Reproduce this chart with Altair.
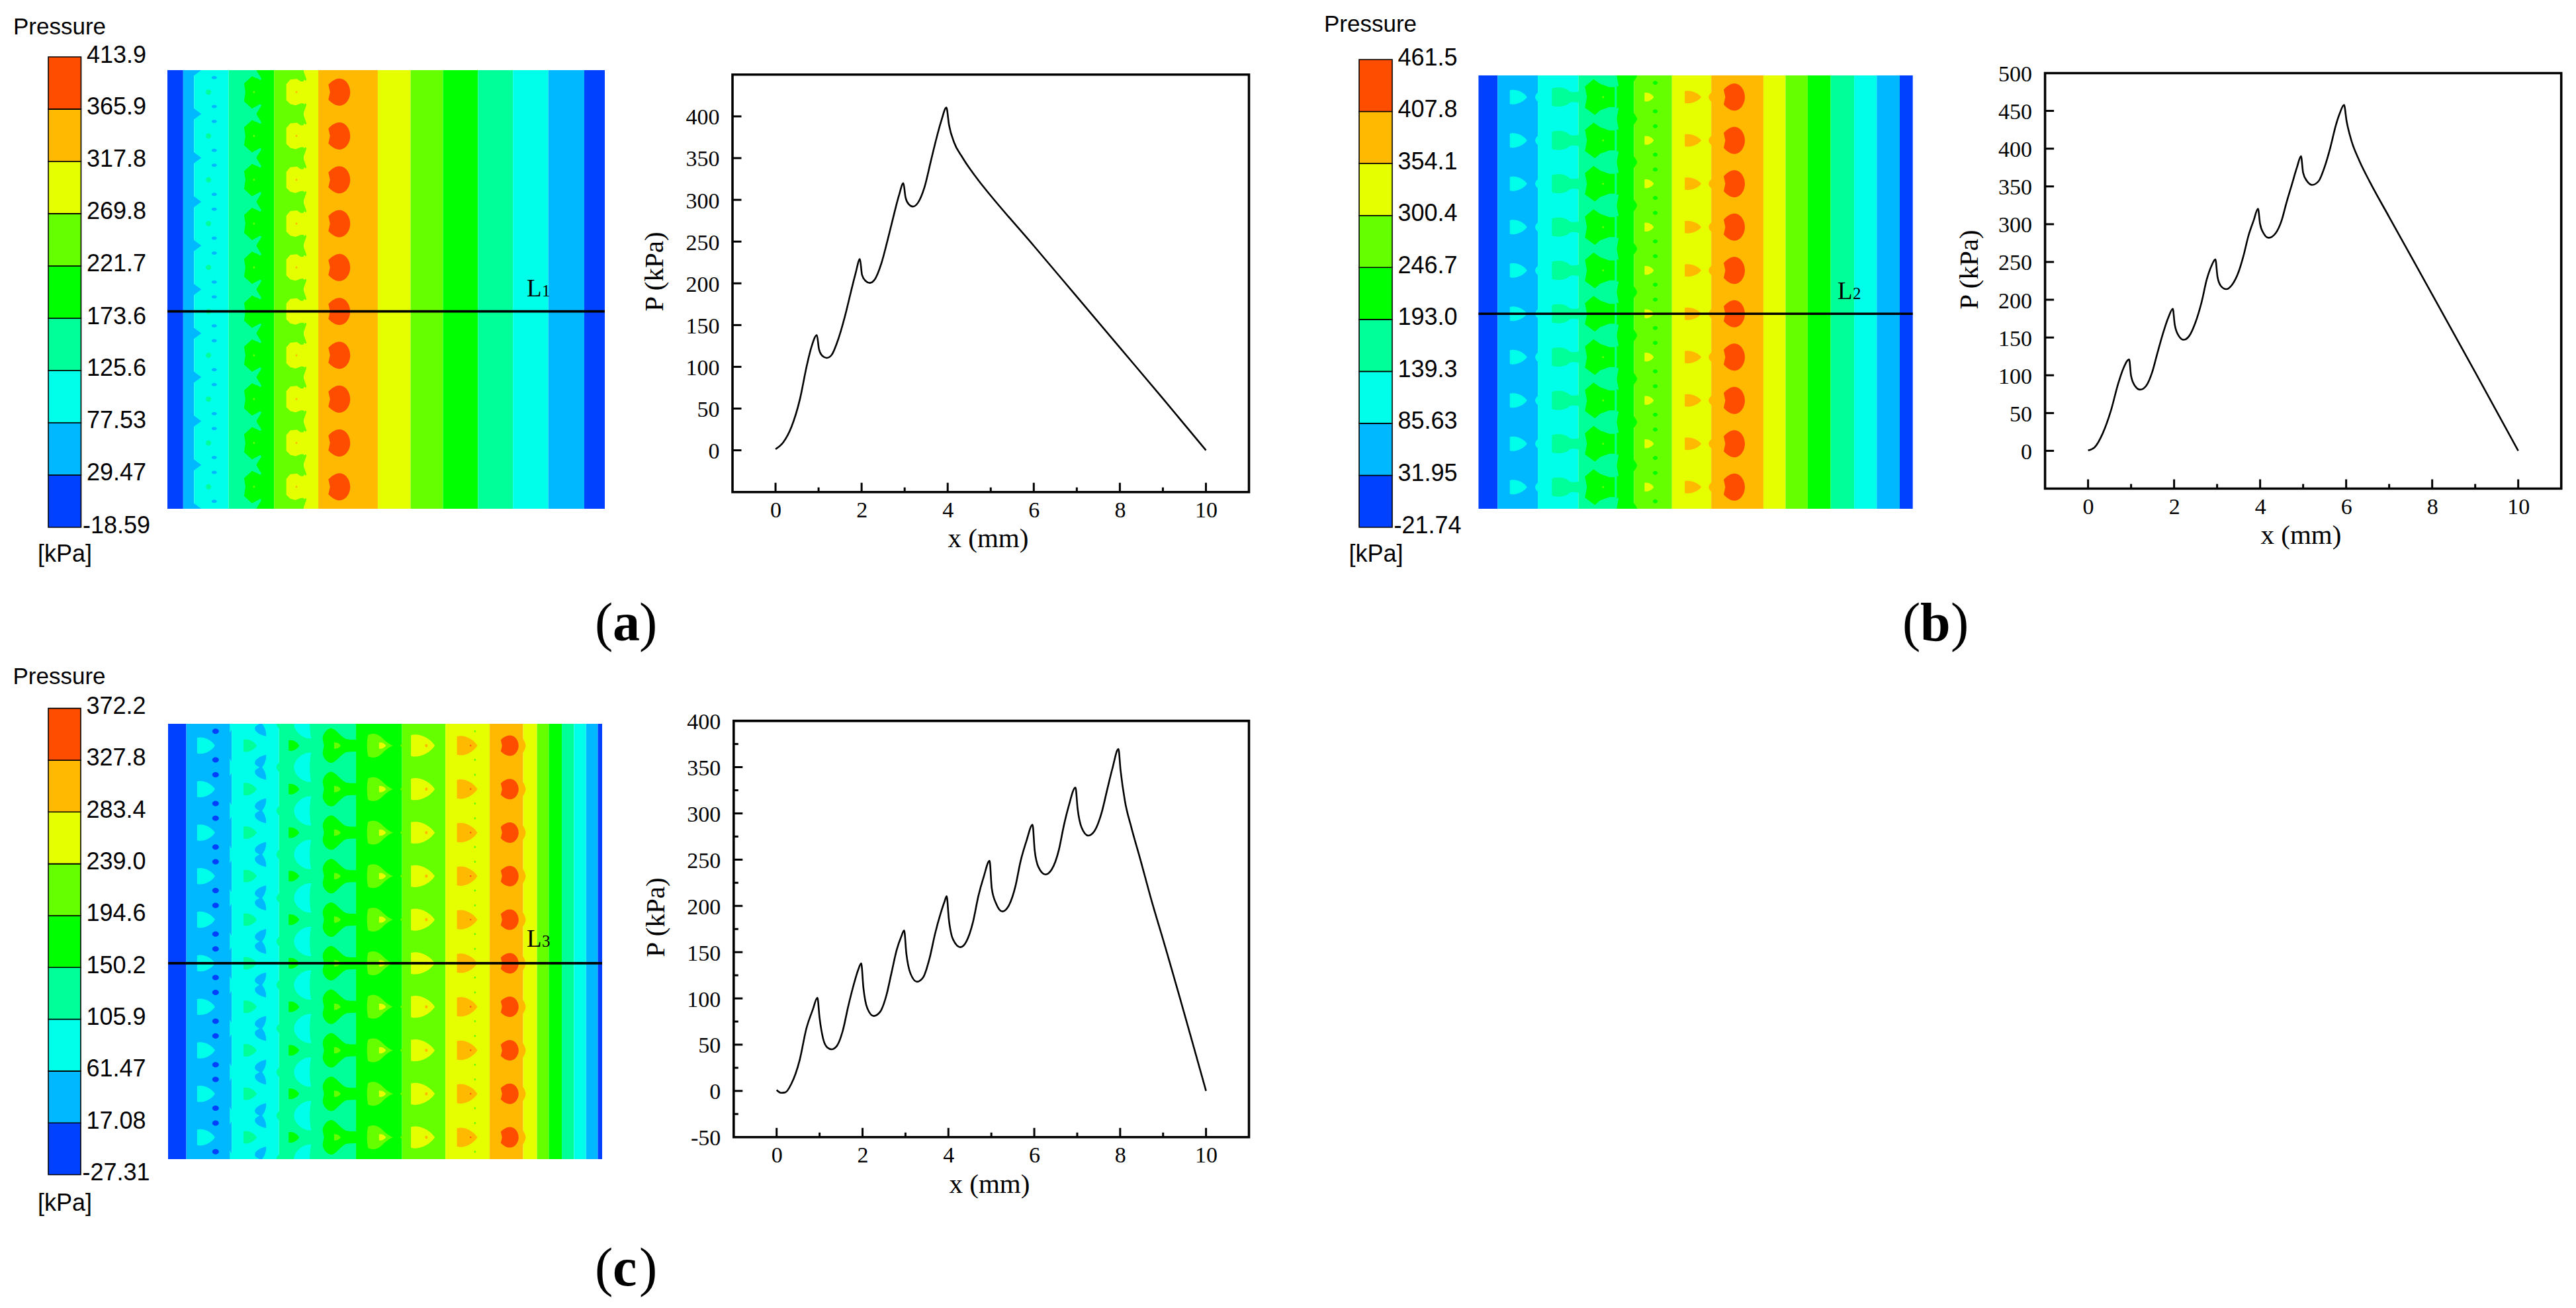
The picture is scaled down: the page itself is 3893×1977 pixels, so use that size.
import altair as alt
import pandas as pd

W, H = 3877, 1961
COLORS = ["#0040ff", "#00b8ff", "#00ffea", "#00ff99", "#00ff00", "#66ff00", "#e6ff00", "#ffb900", "#ff4d00"]
SANS = "Liberation Sans"
SERIF = "Liberation Serif"
MINUS_FIX = "replace(datum.label, '\u2212', '-')"

# ---------- curve values ----------
xa = [0, .18, .37, .57, .72, .83, .96, 1.01, 1.09, 1.19, 1.30, 1.45, 1.62, 1.75, 1.86, 1.96, 2.01, 2.09, 2.19, 2.31, 2.46, 2.6, 2.73, 2.87, 2.97, 3.02, 3.09, 3.19, 3.31, 3.46, 3.61, 3.73, 3.85, 3.97, 4.03, 4.15, 4.34, 4.74, 5, 6, 7, 8, 9, 10]
ya = [1.4, 9.6, 28, 62, 100, 123, 138, 121, 113, 110.7, 114, 132, 162, 189.5, 212, 229, 210, 203, 200.5, 205, 224, 251, 278, 305.7, 320, 303, 295, 292, 296.6, 315, 346.7, 372, 394.5, 410.5, 390, 368.6, 351, 321.6, 305, 245, 184, 123, 62, 0]
xb = [0, .15, .34, .53, .70, .82, .955, 1.0, 1.09, 1.21, 1.35, 1.49, 1.61, 1.75, 1.87, 1.97, 2.015, 2.11, 2.22, 2.35, 2.49, 2.64, 2.76, 2.87, 2.96, 3.01, 3.09, 3.21, 3.35, 3.5, 3.61, 3.73, 3.85, 3.95, 4.0, 4.08, 4.2, 4.36, 4.5, 4.61, 4.74, 4.86, 4.95, 5.0, 5.09, 5.21, 5.36, 5.5, 5.63, 5.76, 5.85, 5.95, 6.01, 6.12, 6.31, 6.55, 7, 8, 9, 10]
yb = [.5, 4.5, 23, 53, 89, 109, 121, 99, 86, 81, 86, 104, 129, 157, 177, 188, 167, 152, 147, 152, 169, 197, 227, 245, 253.5, 230, 218, 214, 220, 237, 257.5, 285, 305, 320.5, 300, 288, 282, 288, 305, 328, 353, 376, 390, 368, 357, 352, 357, 376, 401, 431, 446.6, 458, 436.5, 411, 383.6, 356, 309.5, 207, 104, 0]
xc = [0, .1, .2, .34, .54, .69, .84, .95, 1.0, 1.08, 1.18, 1.28, 1.4, 1.54, 1.67, 1.79, 1.9, 1.97, 2.02, 2.11, 2.26, 2.41, 2.56, 2.67, 2.8, 2.9, 2.97, 3.02, 3.12, 3.27, 3.41, 3.56, 3.69, 3.82, 3.91, 3.96, 4.01, 4.11, 4.28, 4.42, 4.57, 4.7, 4.82, 4.96, 5.01, 5.11, 5.26, 5.41, 5.56, 5.68, 5.82, 5.96, 6.01, 6.1, 6.26, 6.41, 6.57, 6.69, 6.8, 6.96, 7.01, 7.1, 7.26, 7.4, 7.57, 7.7, 7.82, 7.96, 8.01, 8.11, 8.26, 8.46, 8.75, 9, 10]
yc = [1, -2, -1.6, 7.4, 34, 67, 87.6, 100.7, 79, 57, 47, 45, 48.5, 65, 92, 114, 131, 138, 112, 89.6, 81, 85.5, 104, 126.6, 153, 166.5, 173.5, 149, 126.6, 118, 122.5, 143, 170, 192, 204.7, 210.5, 186, 163.6, 155.4, 161.6, 182, 211, 231, 248.7, 219, 202.7, 194, 200.6, 221, 248, 270.5, 287.8, 260, 241.7, 234, 239.7, 260, 287, 307.5, 328, 305, 285, 276, 280.8, 301, 326, 348.6, 369.6, 346.5, 313.7, 285, 252, 202.7, 163.6, 0]

# ---------- colour bar tick values ----------
bar_a = [-18.59, 29.47, 77.53, 125.6, 173.6, 221.7, 269.8, 317.8, 365.9, 413.9]
bar_b = [-21.74, 31.95, 85.63, 139.3, 193.0, 246.7, 300.4, 354.1, 407.8, 461.5]
bar_c = [-27.31, 17.08, 61.47, 105.9, 150.2, 194.6, 239.0, 283.4, 327.8, 372.2]

# ---------- contour bands (mm edges along the channel, colour levels) ----------
LEVELS = [0, 1, 2, 3, 4, 5, 6, 7, 6, 5, 4, 3, 2, 1, 0]
edges_a = [0, .36, .61, 1.40, 2.03, 2.44, 3.12, 3.45, 4.81, 5.56, 6.30, 7.10, 7.90, 8.71, 9.53, 10]
edges_b = [0, .44, 1.366, 2.30, 3.18, 3.58, 4.455, 5.36, 6.56, 7.07, 7.58, 8.11, 8.65, 9.17, 9.70, 10]
edges_c = [0, .42, 1.466, 2.557, 4.33, 5.39, 6.39, 7.41, 8.18, 8.50, 8.77, 9.07, 9.35, 9.63, 9.90, 10]


def ell(rx, ry):
    k = .55
    return (f"M{-rx},0 C{-rx},{-k*ry} {-k*rx},{-ry} 0,{-ry} C{k*rx},{-ry} {rx},{-k*ry} {rx},0 "
            f"C{rx},{k*ry} {k*rx},{ry} 0,{ry} C{-k*rx},{ry} {-rx},{k*ry} {-rx},0 Z")


def bullet(w, h):
    a, b = w / 2, h / 2
    return (f"M{-a},{-b*.9} C{-a*.3},{-b*1.1} {a*.6},{-b*.65} {a},0 "
            f"C{a*.6},{b*.65} {-a*.3},{b*1.1} {-a},{b*.9} Z")


def dee(w, h):
    a, b = w / 2, h / 2
    return (f"M{-a},{-b*.55} C{-a*.6},{-b*.9} {-a*.25},{-b} 0,{-b} C{a*.6},{-b} {a},{-b*.5} {a},0 "
            f"C{a},{b*.5} {a*.6},{b} 0,{b} C{-a*.25},{b} {-a*.6},{b*.9} {-a},{b*.55} L{-a*.85},0 Z")


S = {
    "tri": "M-12,-17 L11,0 L-12,17 Z",
    "blob_a": "M-13,-13 L-1,-24 L14,-17 L20,-17 L20,17 L14,17 L-1,25 L-13,14 L-11,0 Z",
    "ear_a": "M-6,-8 L6,-15 L8,-13 L0,0 L8,13 L6,15 L-6,8 Z",
    "yel_a": "M-14,-12 L-8,-19 L2,-20 L8,-16 L22,-17 L22,17 L8,17 L0,20 L-8,18 L-14,12 Z",
    "ear2_a": "M-10,-10 L3,-16 L4,-14 L-1,0 L4,14 L3,16 L-10,10 Z",
    "bow_b": "M-18,-13 C-8,-16 4,-14 8,-9 C12,-7 16,-7 24,-9 L24,9 C16,7 12,7 8,9 C4,14 -8,16 -18,13 Z",
    "blob_b": "M-15,-16 L-2,-27 L8,-20 L22,-15 L30,-15 L30,15 L22,15 L8,20 L0,27 L-15,16 L-12,0 Z",
    "ear_b": "M-12,-7 L2,-17 L3,-15 L0,0 L3,15 L2,17 L-12,7 Z",
    "lobe_l": "M4,-10 C1,-8 -4,-4 -4,0 C-4,4 1,8 4,10 Z",
    "lobe_r": "M-3,-14 C-1,-8 3,-6 5,0 C3,6 -1,8 -3,14 Z",
    "hour_c": "M9,-19 C0,-17 -8,-12 -8,-7 C-8,-3 -2,-1 -1,0 C-2,1 -8,3 -8,7 C-8,12 0,17 9,19 C10,12 7,5 3,0 C7,-5 10,-12 9,-19 Z",
    "lens_c": "M13,-22 C2,-24 -13,-12 -13,0 C-13,12 2,24 13,22 C10,10 10,-10 13,-22 Z",
    "tref_c": "M-15,-10 C-15,-20 -6,-27 -1,-26 C5,-25 12,-14 20,-10 C24,-9 30,-9 36,-9 L36,9 C30,9 24,9 20,10 C12,14 5,25 -1,26 C-6,27 -15,20 -15,10 L-13,0 Z",
    "heart_c": "M-18,-16 C-8,-21 0,-16 6,-9 C12,-4 16,-1 20,0 C16,1 12,4 6,9 C0,16 -8,21 -18,16 C-20,5 -20,-5 -18,-16 Z",
    "lobe_c": "M4,-7 L-3,0 L4,7 Z",
    "wave_c": "M-6,-20 C-2,-12 3,-8 4,0 C3,8 -2,12 -6,20 Z",
}

# features: x (mm), phase within a row (0 = between pins, .5 = at the pin), colour level, shape
feat_a = [
    (.61, 0, 1, S["tri"]),
    (.94, .5, 3, ell(4, 4)),
    (1.07, .17, 1, ell(4, 2.5)), (1.07, .83, 1, ell(4, 2.5)),
    (1.95, .5, 4, S["blob_a"]), (2.03, 0, 3, S["ear_a"]), (1.98, .5, 5, ell(1.5, 1.5)),
    (2.93, .5, 6, S["yel_a"]), (3.12, 0, 5, S["ear2_a"]), (2.95, .5, 7, ell(1.5, 1.5)),
    (3.93, .5, 8, dee(33, 41)),
]
feat_b = [
    (.92, .5, 2, bullet(26, 23)),
    (1.366, .5, 2, S["lobe_l"]),
    (1.965, .5, 3, S["bow_b"]),
    (2.68, .5, 4, S["blob_b"]), (3.18, 0, 3, S["ear_b"]),
    (3.58, 0, 4, S["lobe_r"]), (2.87, .5, 5, ell(1.5, 1.5)),
    (3.93, .5, 6, bullet(14, 14)),
    (4.07, .17, 4, ell(3.5, 3)), (4.07, .83, 4, ell(3.5, 3)),
    (4.94, .5, 7, bullet(25, 20)),
    (5.36, .5, 7, S["lobe_l"]),
    (5.89, .5, 8, dee(32, 41)),
]
feat_c = [
    (.875, .5, 2, bullet(27, 26)),
    (1.094, .17, 0, ell(5, 4)), (1.094, .83, 0, ell(5, 4)),
    (1.466, 0, 2, S["lobe_r"]),
    (1.89, .5, 3, bullet(20, 20)),
    (2.12, 0, 1, S["hour_c"]),
    (2.557, 0, 3, S["lobe_l"]),
    (2.90, .5, 4, bullet(16, 17)),
    (3.10, 0, 2, S["lens_c"]),
    (3.79, .5, 4, S["tref_c"]),
    (3.90, .5, 5, bullet(10, 10)),
    (4.88, .5, 5, S["heart_c"]),
    (4.94, .5, 6, bullet(10.5, 10)),
    (5.39, .5, 5, S["lobe_c"]),
    (5.87, .5, 6, bullet(36, 35)),
    (5.95, .5, 7, ell(2, 2.5)),
    (6.89, .5, 7, bullet(31, 31)),
    (6.97, .5, 8, ell(1.2, 1.2)),
    (7.07, .17, 5, ell(1.5, 1.5)), (7.07, .83, 5, ell(1.5, 1.5)),
    (7.87, .5, 8, dee(27, 31)),
    (8.18, .5, 7, S["wave_c"]),
]


def fx(p):
    return p - 8


def scale(dom, a, b):
    return alt.Scale(domain=dom, range=[fx(a), fx(b)], nice=False, zero=False)


level_color = alt.Color("level:O", scale=alt.Scale(domain=list(range(9)), range=COLORS), legend=None)


def colorbar(ticks, left, right, top, bottom):
    sx = scale([0, 1], left, right)
    sy = scale([ticks[0], ticks[-1]], bottom, top)
    d = pd.DataFrame({"a": [0] * 9, "b": [1] * 9, "lo": ticks[:-1], "hi": ticks[1:], "level": list(range(9))})
    return [alt.Chart(d).mark_rect(stroke="#000000", strokeWidth=1.6).encode(
        x=alt.X("a:Q", scale=sx, axis=None),
        x2="b:Q",
        y=alt.Y("lo:Q", scale=sy, axis=alt.Axis(
            orient="right", offset=fx(right) - W, values=ticks, title=None, grid=False, domain=False, ticks=False,
            labelFont=SANS, labelFontSize=36, labelColor="#000000", labelPadding=53, labelAlign="center",
            labelOffset=-3, labelBaseline="middle", labelOverlap=False, format=".4r", labelExpr=MINUS_FIX)),
        y2="hi:Q",
        color=level_color)]


def contour(edges, feats, left, right, top, bottom):
    sx = scale([0, 10], left, right)
    sy = scale([0, 10], bottom, top)
    bands = pd.DataFrame({"x0": edges[:-1], "x1": edges[1:], "y0": [0] * 15, "y1": [10] * 15, "level": LEVELS})
    rows = []
    for x, ph, lev, path in feats:
        for i in range(11):
            if i + ph <= 10:
                rows.append({"x": x, "y": i + ph, "level": lev, "path": path})
    f = pd.DataFrame(rows)
    m = pd.DataFrame({"x0": [0, 0], "x1": [10, 10], "y0": [10, -.75], "y1": [10.75, 0]})
    line = pd.DataFrame({"x0": [0], "x1": [10], "y": [4.5]})
    return [
        alt.Chart(bands).mark_rect().encode(
            x=alt.X("x0:Q", scale=sx, axis=None), x2="x1:Q",
            y=alt.Y("y0:Q", scale=sy, axis=None), y2="y1:Q", color=level_color),
        alt.Chart(f).mark_point(filled=True, opacity=1, size=4, strokeWidth=0).encode(
            x=alt.X("x:Q", scale=sx, axis=None),
            y=alt.Y("y:Q", scale=sy, axis=None),
            color=level_color,
            shape=alt.Shape("path:N", scale=None)),
        alt.Chart(m).mark_rect(color="#ffffff").encode(
            x=alt.X("x0:Q", scale=sx, axis=None), x2="x1:Q",
            y=alt.Y("y0:Q", scale=sy, axis=None), y2="y1:Q"),
        alt.Chart(line).mark_rule(color="#000000", strokeWidth=3.6).encode(
            x=alt.X("x0:Q", scale=sx, axis=None), x2="x1:Q",
            y=alt.Y("y:Q", scale=sy, axis=None)),
    ]


def line_chart(xs, ys, box, ydom, ylabels, ymajor, yminor, ytitle_x, ytitle_y, xtitle_x, xtitle_dy):
    l, r, t, b = box
    sx = scale([-1, 11], l, r)
    sy = scale(ydom, b, t)
    xper = 12 / (r - l)
    yper = (ydom[1] - ydom[0]) / (b - t)
    frame = pd.DataFrame({"x0": [-1], "x1": [11], "y0": [ydom[0]], "y1": [ydom[1]]})
    xt = [(v, 14) for v in [0, 2, 4, 6, 8, 10]] + [(v, 7) for v in [1, 3, 5, 7, 9]]
    xticks = pd.DataFrame({"x": [v for v, _ in xt], "y0": [ydom[0]] * len(xt),
                           "y1": [ydom[0] + n * yper for _, n in xt]})
    yt = [(v, 13.5) for v in ymajor] + [(v, 7) for v in yminor]
    yticks = pd.DataFrame({"y": [v for v, _ in yt], "x0": [-1] * len(yt),
                           "x1": [-1 + n * xper for _, n in yt]})
    curve = pd.DataFrame({"x": xs, "y": ys})
    return [
        alt.Chart(xticks).mark_rule(color="#000000", strokeWidth=3).encode(
            x=alt.X("x:Q", scale=sx, axis=None), y=alt.Y("y0:Q", scale=sy, axis=None), y2="y1:Q"),
        alt.Chart(yticks).mark_rule(color="#000000", strokeWidth=3).encode(
            x=alt.X("x0:Q", scale=sx, axis=None), x2="x1:Q", y=alt.Y("y:Q", scale=sy, axis=None)),
        alt.Chart(frame).mark_rect(fillOpacity=0, stroke="#000000", strokeWidth=3.6).encode(
            x=alt.X("x0:Q", scale=sx, axis=None), x2="x1:Q",
            y=alt.Y("y0:Q", scale=sy, axis=None), y2="y1:Q"),
        alt.Chart(curve).mark_line(color="#000000", strokeWidth=2.6, interpolate="monotone").encode(
            x=alt.X("x:Q", scale=sx, axis=alt.Axis(
                orient="bottom", offset=fx(b) - H, values=[0, 2, 4, 6, 8, 10], title="x (mm)", grid=False,
                domain=False, ticks=False, labelFont=SERIF, labelFontSize=34, labelColor="#000000",
                labelPadding=28, labelBaseline="middle", labelAngle=0, labelOverlap=False,
                titleFont=SERIF, titleFontSize=41, titleFontWeight="normal", titleColor="#000000",
                titleX=fx(xtitle_x), titleY=xtitle_dy, titleBaseline="middle", titleAlign="center")),
            y=alt.Y("y:Q", scale=sy, axis=alt.Axis(
                orient="left", offset=-fx(l), values=ylabels, title="P (kPa)", grid=False,
                domain=False, ticks=False, labelFont=SERIF, labelFontSize=34, labelColor="#000000",
                labelPadding=20, labelOffset=2, labelOverlap=False, labelExpr=MINUS_FIX,
                titleFont=SERIF, titleFontSize=41, titleFontWeight="normal", titleColor="#000000",
                titleX=ytitle_x, titleY=fx(ytitle_y), titleBaseline="middle", titleAlign="center", titleAngle=-90)),
            order=alt.Order("x:Q")),
    ]


def note(text, x, y, size, font=SANS, weight="normal", align="center", baseline="middle"):
    d = pd.DataFrame({"t": [text]})
    return alt.Chart(d).mark_text(font=font, fontSize=size, fontWeight=weight, color="#000000",
                                  align=align, baseline=baseline).encode(
        x=alt.value(fx(x)), y=alt.value(fx(y)), text="t:N")


def panel_tag(letter, x, base):
    return [
        note("(", x, base, 82, SERIF, "normal", "left", "alphabetic"),
        note(letter, x + 27, base, 82, SERIF, "bold", "left", "alphabetic"),
        note(")", x + 27 + (46 if letter == "b" else 40), base, 82, SERIF, "normal", "left", "alphabetic"),
    ]


layers = []
# (a)
layers += colorbar(bar_a, 73, 122.5, 86, 797)
layers += contour(edges_a, feat_a, 253, 914, 106, 769)
layers += line_chart(xa, ya, (1107, 1887.5, 112.8, 743.7), [-50, 450], list(range(0, 401, 50)),
                     list(range(0, 401, 50)), [], -117.5, 410, 1493, 71)
layers += [note("Pressure", 90, 41, 35), note("[kPa]", 98, 838, 36),
           note("L", 796, 448, 37, SERIF, "normal", "left", "alphabetic"),
           note("1", 819, 448, 25, SERIF, "normal", "left", "alphabetic")]
layers += panel_tag("a", 899, 968)
# (b)
layers += colorbar(bar_b, 2054, 2104, 90, 797)
layers += contour(edges_b, feat_b, 2234.4, 2890.7, 114, 769)
layers += line_chart(xb, yb, (3090.6, 3870.7, 110.5, 738.5), [-50, 500], list(range(0, 501, 50)),
                     list(range(0, 501, 50)), [], -114.6, 407, 3477, 70.5)
layers += [note("Pressure", 2071, 37, 35), note("[kPa]", 2079.5, 838, 36),
           note("L", 2777, 452, 37, SERIF, "normal", "left", "alphabetic"),
           note("2", 2800, 452, 25, SERIF, "normal", "left", "alphabetic")]
layers += panel_tag("b", 2875, 968)
# (c)
layers += colorbar(bar_c, 73, 122, 1070.6, 1775.5)
layers += contour(edges_c, feat_c, 254, 910, 1094, 1752)
layers += line_chart(xc, yc, (1108.8, 1887.5, 1089.6, 1718.8), [-50, 400], list(range(-50, 401, 50)),
                     list(range(0, 351, 50)), list(range(-25, 376, 50)), -117, 1386, 1495, 72)
layers += [note("Pressure", 89.5, 1023, 35), note("[kPa]", 98, 1819, 36),
           note("L", 796, 1431, 37, SERIF, "normal", "left", "alphabetic"),
           note("3", 819, 1431, 25, SERIF, "normal", "left", "alphabetic")]
layers += panel_tag("c", 899, 1943)

chart = alt.layer(*layers).resolve_scale(x="independent", y="independent").properties(
    width=W, height=H, padding=0, autosize=alt.AutoSizeParams(type="none"), background="#ffffff",
).configure_view(stroke=None)

chart.save("out.html", embed_options={"renderer": "svg", "actions": False})
